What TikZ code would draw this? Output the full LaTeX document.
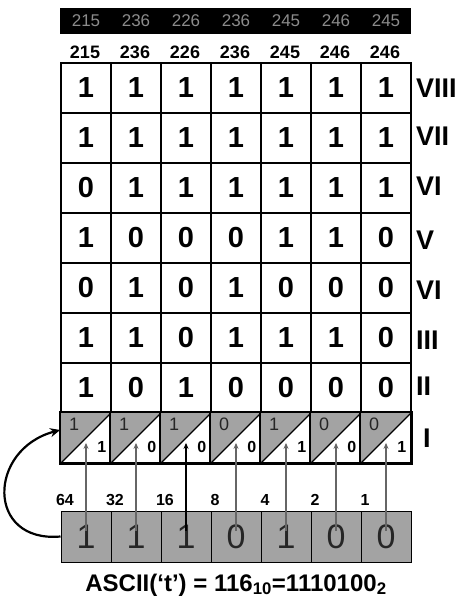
\documentclass[tikz,border=0pt]{standalone}
\usepackage{fontspec}
\setmainfont{Liberation Sans}
\usetikzlibrary{arrows.meta}

\tikzset{
  cellbox/.style={draw, line width=1.8pt, minimum size=50pt, inner sep=0pt,
    font=\fontsize{29}{29}\selectfont\bfseries},
  bitbox/.style={draw, line width=1pt, fill=black!36, minimum width=50pt, minimum height=51pt,
    inner sep=0pt, text=black!85, font=\fontsize{34}{34}\selectfont},
  rowlabel/.style={anchor=west, inner sep=0pt, font=\fontsize{27}{27}\selectfont\bfseries},
  codelabel/.style={inner sep=0pt, font=\fontsize{18}{18}\selectfont\bfseries},
  barlabel/.style={inner sep=0pt, text=black!45, font=\fontsize{17}{17}\selectfont},
  weightlabel/.style={inner sep=0pt, font=\fontsize{16}{16}\selectfont\bfseries},
  readin/.style={-{Stealth[length=6pt,width=5pt]}, line width=1.2pt, draw=black!60},
}

\begin{document}
\begin{tikzpicture}[x=1pt, y=-1pt]
\useasboundingbox (0,0) rectangle (467,599);

% header strip
\fill (60,8) rectangle (411,34);
\foreach \v [count=\i] in {215,236,226,236,245,246,245}
  \node[barlabel] (bar\i) at (36+50*\i,21) {\v};

\foreach \v [count=\i] in {215,236,226,236,245,246,246}
  \node[codelabel] (code\i) at (35+50*\i,52) {\v};

% tracks VIII ... II
\foreach \row/\bits [count=\r] in {VIII/{1,1,1,1,1,1,1}, VII/{1,1,1,1,1,1,1},
    VI/{0,1,1,1,1,1,1}, V/{1,0,0,0,1,1,0}, VIa/{0,1,0,1,0,0,0},
    III/{1,1,0,1,1,1,0}, II/{1,0,1,0,0,0,0}} {
  \foreach \b [count=\i] in \bits
    \node[cellbox] (c\r-\i) at (36+50*\i,38+50*\r) {\b};
}
\node[rowlabel] (lab1) at (416,88) {VIII};
\node[rowlabel] (lab2) at (416,136) {VII};
\node[rowlabel] (lab3) at (416,186) {VI};
\node[rowlabel] (lab4) at (416,240) {V};
\node[rowlabel] (lab5) at (416,290) {VI};
\node[rowlabel] (lab6) at (416,340) {III};
\node[rowlabel] (lab7) at (416,386) {II};
\node[rowlabel] (lab8) at (423,438) {I};

% track I: old bit / new bit
\foreach \old/\new [count=\i] in {1/1,1/0,1/0,0/0,1/1,0/0,0/1} {
  \node[cellbox, minimum size=50pt] (t\i) at (36+50*\i,438) {};
  \fill[black!36] (t\i.south west) -- (t\i.north west) -- (t\i.north east) -- cycle;
  \draw[line width=1.8pt] (t\i.south west) rectangle (t\i.north east);
  \draw[line width=1.3pt] (t\i.south west) -- (t\i.north east);
  \node[inner sep=0pt, font=\fontsize{18}{18}\selectfont, text=black!85] (old\i) at ([xshift=14pt,yshift=-12pt]t\i.north west) {\old};
  \node[inner sep=0pt, font=\fontsize{16}{16}\selectfont\bfseries] (new\i) at ([xshift=-10pt,yshift=17pt]t\i.south east) {\new};
  \coordinate (tip\i) at ([yshift=21pt]t\i.south);
}

% character to write
\foreach \b [count=\i] in {1,1,1,0,1,0,0}
  \node[bitbox] (bit\i) at (36+50*\i,536.5) {\b};
\foreach \w [count=\i] in {64,32,16,8,4,2,1}
  \node[weightlabel] (w\i) at (15+50*\i,500) {\w};

\foreach \i in {1,2,4,5,6,7}
  \draw[readin] ([yshift=6pt]bit\i.center) -- (tip\i);
\draw[readin, draw=black] ([yshift=6pt]bit3.center) -- (tip3);

\draw[-{Stealth[length=10pt,width=9pt]}, line width=2.2pt]
  (bit1.west) to[out=185, in=195, looseness=1.8] ([yshift=8pt]t1.west);

\node[inner sep=0pt, font=\fontsize{24}{24}\selectfont\bfseries] (caption) at (236,585)
  {ASCII(`t') = 116\textsubscript{10}=1110100\textsubscript{2}};
\end{tikzpicture}
\end{document}
